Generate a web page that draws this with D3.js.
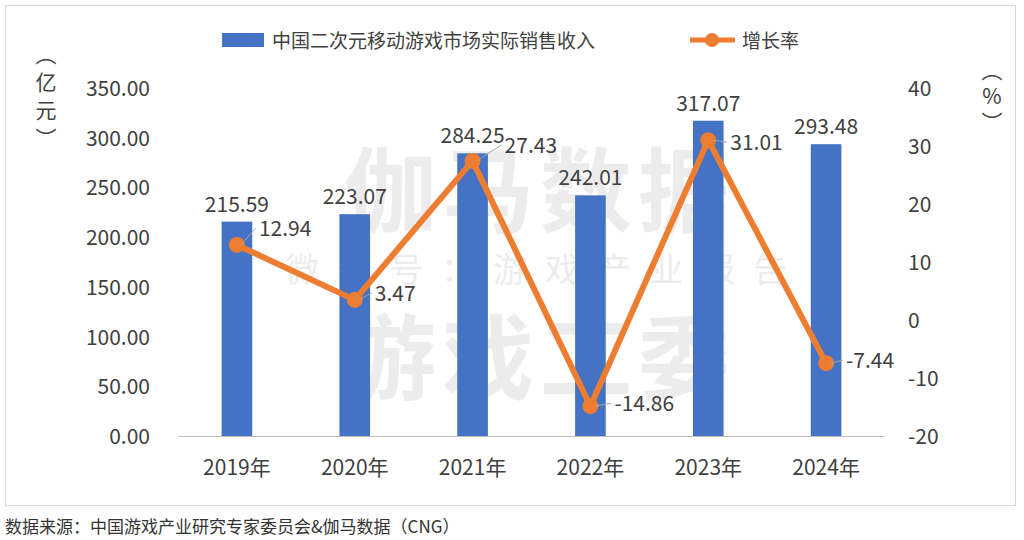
<!DOCTYPE html><html><head><meta charset="utf-8">
<script src="https://cdn.jsdelivr.net/npm/d3@7"></script>
<style>body{margin:0;background:#fff;font-family:"Noto Sans CJK SC","Noto Sans",sans-serif}</style></head><body>
<svg id="c" width="1024" height="540"></svg>
<script>
const categories=["2019年","2020年","2021年","2022年","2023年","2024年"];
const revenue=[215.59,223.07,284.25,242.01,317.07,293.48];
const growth=[12.94,3.47,27.43,-14.86,31.01,-7.44];
const leftTicks=[0,50,100,150,200,250,300,350];
const rightTicks=[-20,-10,0,10,20,30,40];
const growthLabelOffsets=[[22,-17],[20,-7],[32,-16],[24,-3],[22,2],[20,-3]];

const svg=d3.select("#c");
const F='"Noto Sans CJK SC","Noto Sans",sans-serif';
svg.append("rect").attr("x",5.5).attr("y",5.5).attr("width",1010).attr("height",500).attr("fill","none").attr("stroke","#d9d9d9");
const x=d3.scaleBand().domain(categories).range([178,885]).paddingInner(0.74).paddingOuter(0.37);
const yL=d3.scaleLinear().domain([0,350]).range([436,88]);
const yR=d3.scaleLinear().domain([-20,40]).range([436,88]);
const wm=svg.append("g").attr("fill","#000").attr("opacity",0.07).attr("font-weight","bold").attr("font-family",F);
wm.append("text").attr("x",540).attr("y",225).attr("text-anchor","middle").attr("font-size",92).attr("letter-spacing",6).text("伽马数据");
wm.append("text").attr("x",545).attr("y",282).attr("text-anchor","middle").attr("font-size",34).attr("letter-spacing",18).attr("font-weight","normal").text("微信号：游戏产业报告");
wm.append("text").attr("x",540).attr("y",392).attr("text-anchor","middle").attr("font-size",92).attr("letter-spacing",6).text("游戏工委");
svg.append("g").selectAll("text").data(leftTicks).join("text").attr("x",150).attr("y",d=>yL(d)+8).attr("text-anchor","end").attr("font-size",21).attr("fill","#404040").attr("font-family",F).text(d=>d.toFixed(2));
svg.append("g").selectAll("text").data(rightTicks).join("text").attr("x",908).attr("y",d=>yR(d)+8).attr("font-size",21).attr("fill","#404040").attr("font-family",F).text(d=>d);
svg.append("line").attr("x1",178).attr("x2",885).attr("y1",436.5).attr("y2",436.5).attr("stroke","#bfbfbf");
svg.append("g").selectAll("text").data(categories).join("text").attr("x",d=>x(d)+x.bandwidth()/2).attr("y",475).attr("text-anchor","middle").attr("font-size",21).attr("fill","#404040").attr("font-family",F).text(d=>d);
svg.append("g").selectAll("text").data(["︵","亿","元","︶"]).join("text").attr("x",46).attr("y",(d,i)=>62+i*28).attr("text-anchor","middle").attr("font-size",21).attr("fill","#404040").attr("font-family",F).text(d=>d);
svg.append("g").selectAll("text").data(["︵","%","︶"]).join("text").attr("x",992).attr("y",(d,i)=>78+i*26).attr("text-anchor","middle").attr("font-size",21).attr("fill","#404040").attr("font-family",F).text(d=>d);
svg.append("g").selectAll("rect").data(revenue).join("rect").attr("x",(d,i)=>x(categories[i])).attr("width",x.bandwidth()).attr("y",d=>yL(d)).attr("height",d=>yL(0)-yL(d)).attr("fill","#4472c4");
svg.append("g").selectAll("text").data(revenue).join("text").attr("x",(d,i)=>x(categories[i])+x.bandwidth()/2).attr("y",d=>yL(d)-10).attr("text-anchor","middle").attr("font-size",21).attr("fill","#404040").attr("font-family",F).text(d=>d.toFixed(2));
const cx=i=>x(categories[i])+x.bandwidth()/2;
svg.append("path").datum(growth).attr("d",d3.line().x((d,i)=>cx(i)).y(d=>yR(d))).attr("fill","none").attr("stroke","#ed7d31").attr("stroke-width",6).attr("stroke-linejoin","round");
svg.append("g").selectAll("circle").data(growth).join("circle").attr("cx",(d,i)=>cx(i)).attr("cy",d=>yR(d)).attr("r",8).attr("fill","#ed7d31");
const gl=svg.append("g");
growth.forEach((d,i)=>{const [dx,dy]=growthLabelOffsets[i];const px=cx(i),py=yR(d);
 gl.append("line").attr("x1",px+4).attr("y1",py).attr("x2",px+dx-3).attr("y2",py+dy).attr("stroke","#a6a6a6");
 gl.append("text").attr("x",px+dx).attr("y",py+dy+8).attr("font-size",21).attr("fill","#404040").attr("font-family",F).text(d.toFixed(2));});
svg.append("rect").attr("x",222).attr("y",33).attr("width",42).attr("height",14).attr("fill","#4472c4");
svg.append("text").attr("x",272).attr("y",48).attr("font-size",19).attr("fill","#404040").attr("font-family",F).text("中国二次元移动游戏市场实际销售收入");
svg.append("line").attr("x1",690).attr("x2",735).attr("y1",40).attr("y2",40).attr("stroke","#ed7d31").attr("stroke-width",5);
svg.append("circle").attr("cx",712).attr("cy",40).attr("r",7).attr("fill","#ed7d31");
svg.append("text").attr("x",742).attr("y",48).attr("font-size",19).attr("fill","#404040").attr("font-family",F).text("增长率");
svg.append("text").attr("x",5).attr("y",533).attr("font-size",17).attr("fill","#333").attr("font-family",F).text("数据来源：中国游戏产业研究专家委员会&伽马数据（CNG）");
</script></body></html>
